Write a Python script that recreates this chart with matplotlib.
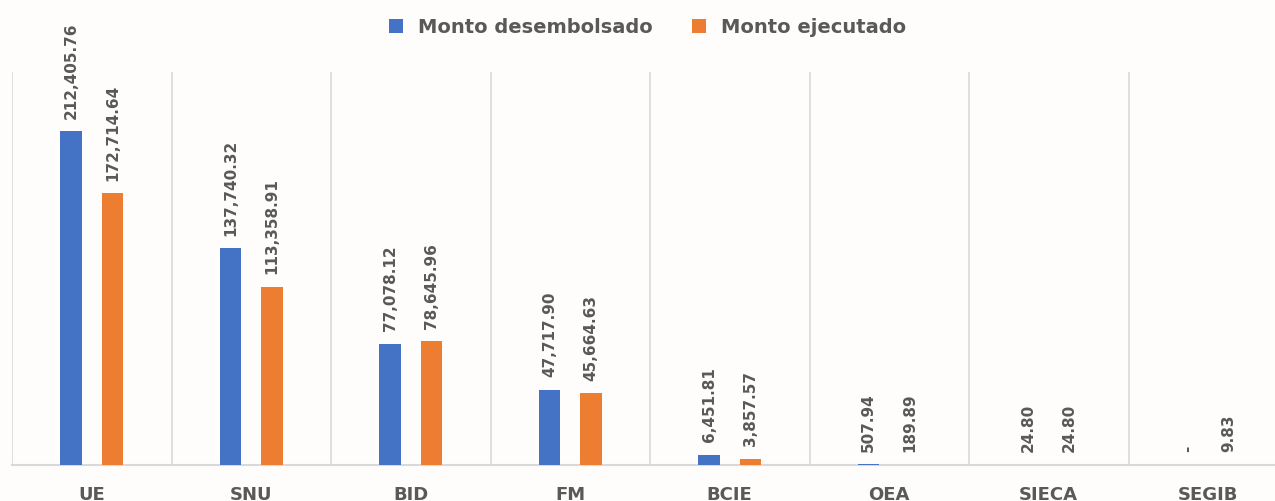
import matplotlib
matplotlib.use("Agg")
import matplotlib.pyplot as plt
from matplotlib.patches import Patch
import numpy as np

categories = ["UE", "SNU", "BID", "FM", "BCIE", "OEA", "SIECA", "SEGIB"]
desembolsado = [212405.76, 137740.32, 77078.12, 47717.90, 6451.81, 507.94, 24.80, 0.0]
ejecutado = [172714.64, 113358.91, 78645.96, 45664.63, 3857.57, 189.89, 24.80, 9.83]
series_names = ["Monto desembolsado", "Monto ejecutado"]

BLUE = "#4472C4"
ORANGE = "#ED7D31"
TEXT = "#595959"
GRID = "#D9D9D9"
BG = "#FEFDFC"

W, H = 1275, 501
fig = plt.figure(figsize=(W / 100, H / 100), dpi=100, facecolor=BG)
ax = fig.add_axes([12 / W, (H - 465) / H, 8 * 159.5 / W, (465 - 72) / H])
ax.set_facecolor(BG)

x = np.arange(len(categories))
bw = 0.132
off = 0.13
b1 = ax.bar(x - off, desembolsado, bw, color=BLUE, zorder=3)
b2 = ax.bar(x + off, ejecutado, bw, color=ORANGE, zorder=3)

def fmt(v):
    return "-" if v == 0 else f"{v:,.2f}"

for bars, vals in ((b1, desembolsado), (b2, ejecutado)):
    for rect, v in zip(bars, vals):
        ax.annotate(fmt(v), (rect.get_x() + rect.get_width() / 2, rect.get_height()),
                    xytext=(0, 9), textcoords="offset points", rotation=90,
                    ha="center", va="bottom", fontsize=11, fontweight="bold",
                    color=TEXT, zorder=4)

ax.set_xlim(-0.5, len(categories) - 0.5)
ax.set_ylim(0, 250000)
for i in range(len(categories) + 1):
    ax.axvline(i - 0.5, color=GRID, lw=1.2, zorder=1)

for s in ("top", "right", "left"):
    ax.spines[s].set_visible(False)
ax.spines["bottom"].set_color(GRID)
ax.spines["bottom"].set_linewidth(1.5)
ax.set_yticks([])
ax.set_xticks(x)
ax.set_xticklabels(categories, fontsize=13, fontweight="bold", color=TEXT)
ax.tick_params(axis="x", length=0, pad=15)

handles = [Patch(facecolor=BLUE, edgecolor="none"), Patch(facecolor=ORANGE, edgecolor="none")]
leg = fig.legend(handles, series_names, loc="center", bbox_to_anchor=(0.508, 0.946),
                 ncol=2, frameon=False, handlelength=0.7, handleheight=0.7,
                 handletextpad=0.8, columnspacing=2.0,
                 prop={"size": 14, "weight": "bold"})
for t in leg.get_texts():
    t.set_color(TEXT)

fig.savefig("out.png", dpi=100, facecolor=BG)
